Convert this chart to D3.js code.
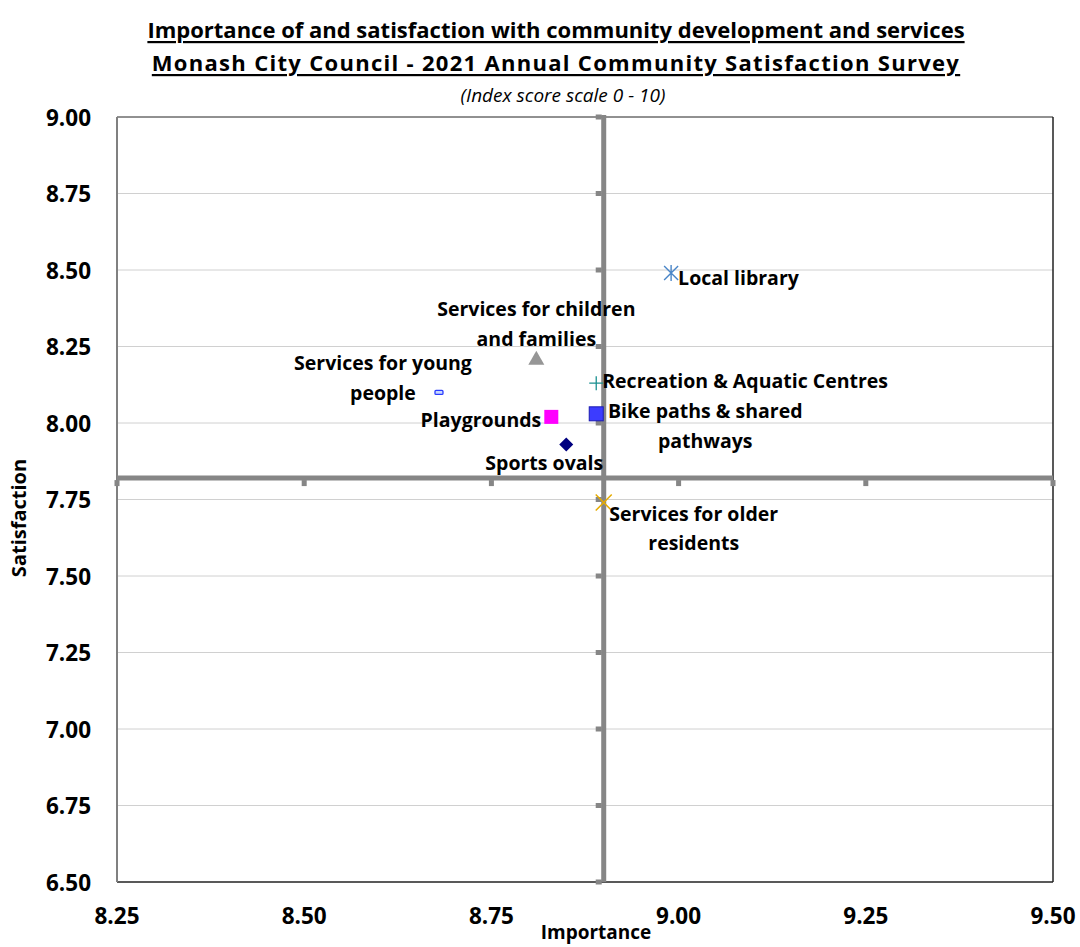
<!DOCTYPE html>
<html>
<head>
<meta charset="utf-8">
<script src="https://cdn.jsdelivr.net/npm/d3@7"></script>
<style>
  html, body { margin: 0; padding: 0; background: #fff; }
  svg { display: block; }
  text { font-family: "Open Sans", Lato, sans-serif; font-weight: bold; fill: #000; }
</style>
</head>
<body>
<svg id="chart" width="1080" height="947"></svg>
<script>
// ---- DATA ----
const titleLines = [
  "Importance of and satisfaction with community development and services",
  "Monash City Council - 2021 Annual Community Satisfaction Survey"
];
const subtitle = "(Index score scale 0 - 10)";
const services = [
  "Local library",
  "Services for children and families",
  "Services for young people",
  "Playgrounds",
  "Bike paths & shared pathways",
  "Recreation & Aquatic Centres",
  "Sports ovals",
  "Services for older residents"
];
const importance   = [8.99, 8.81, 8.68, 8.83, 8.89, 8.89, 8.85, 8.90];
const satisfaction = [8.49, 8.21, 8.10, 8.02, 8.03, 8.13, 7.93, 7.74];
const xTicks = [8.25, 8.50, 8.75, 9.00, 9.25, 9.50];
const yTicks = [6.50, 6.75, 7.00, 7.25, 7.50, 7.75, 8.00, 8.25, 8.50, 8.75, 9.00];
const xCross = 8.90;   // vertical axis crosses at this importance
const yCross = 7.82;   // horizontal axis crosses at this satisfaction

// ---- LAYOUT / STYLE ----
const L = 117, R = 1053, T = 117, B = 882;
const svg = d3.select("#chart");
const x = d3.scaleLinear().domain([8.25, 9.50]).range([L, R]);
const y = d3.scaleLinear().domain([6.50, 9.00]).range([B, T]);

// label line splits and placement (px offsets from marker)
const labelCfg = [
  { lines: ["Local library"], anchor: "start", dx: 7, dy: [4] },
  { lines: ["Services for children", "and families"], anchor: "middle", dx: 0, dy: [-50, -20] },
  { lines: ["Services for young", "people"], anchor: "middle", dx: -56, dy: [-30, 0] },
  { lines: ["Playgrounds"], anchor: "end", dx: -10, dy: [3] },
  { lines: ["Bike paths & shared", "pathways"], anchor: "middle", dx: 109, dy: [-3, 27] },
  { lines: ["Recreation & Aquatic Centres"], anchor: "start", dx: 6, dy: [-3] },
  { lines: ["Sports ovals"], anchor: "middle", dx: -22, dy: [18] },
  { lines: ["Services for older", "residents"], anchor: "middle", dx: 90, dy: [11, 40] }
];

// gridlines
svg.append("g").selectAll("line").data(yTicks.slice(1, -1)).join("line")
  .attr("x1", L).attr("x2", R)
  .attr("y1", d => y(d)).attr("y2", d => y(d))
  .attr("stroke", "#d0d0d0").attr("stroke-width", 1);

// plot border
svg.append("line").attr("x1", L).attr("x2", R).attr("y1", T).attr("y2", T).attr("stroke", "#222").attr("stroke-width", 1);
svg.append("line").attr("x1", R).attr("x2", R).attr("y1", T).attr("y2", B).attr("stroke", "#222").attr("stroke-width", 1.5);
svg.append("line").attr("x1", L).attr("x2", R).attr("y1", B).attr("y2", B).attr("stroke", "#222").attr("stroke-width", 1.5);
svg.append("line").attr("x1", L).attr("x2", L).attr("y1", T).attr("y2", B).attr("stroke", "#808080").attr("stroke-width", 2);

// crossing axes (thick gray)
const axisColor = "#868686";
const cx = x(xCross), cy = y(yCross);
svg.append("line").attr("x1", cx).attr("x2", cx).attr("y1", T - 2).attr("y2", B)
  .attr("stroke", axisColor).attr("stroke-width", 5);
svg.append("line").attr("x1", L).attr("x2", R).attr("y1", cy).attr("y2", cy)
  .attr("stroke", axisColor).attr("stroke-width", 5);
// tick marks on vertical axis (left)
svg.append("g").selectAll("rect").data(yTicks).join("rect")
  .attr("x", cx - 8).attr("y", d => y(d) - 2.5).attr("width", 6).attr("height", 5)
  .attr("fill", axisColor);
// tick marks on horizontal axis (below)
svg.append("g").selectAll("rect").data(xTicks).join("rect")
  .attr("x", d => x(d) - 2.5).attr("y", cy + 2).attr("width", 5).attr("height", 6)
  .attr("fill", axisColor);

// tick labels
svg.append("g").selectAll("text").data(yTicks).join("text")
  .attr("x", 91).attr("y", d => y(d)).attr("text-anchor", "end")
  .attr("dominant-baseline", "central").attr("font-size", 22.5).text(d => d.toFixed(2));
svg.append("g").selectAll("text").data(xTicks).join("text")
  .attr("x", d => x(d)).attr("y", 915).attr("text-anchor", "middle")
  .attr("dominant-baseline", "central").attr("font-size", 22.5).text(d => d.toFixed(2));

// axis titles
svg.append("text").attr("x", 596).attr("y", 932).attr("text-anchor", "middle")
  .attr("dominant-baseline", "central").attr("font-size", 19).text("Importance");
svg.append("text").attr("transform", "translate(18,518) rotate(-90)").attr("text-anchor", "middle")
  .attr("dominant-baseline", "central").attr("font-size", 20).text("Satisfaction");

// titles
const titleSpacing = [0, 1.3];
titleLines.forEach((t, i) => {
  svg.append("text").attr("x", 556).attr("y", 29 + i * 33).attr("text-anchor", "middle")
    .attr("dominant-baseline", "central").attr("font-size", 22)
    .attr("letter-spacing", titleSpacing[i])
    .attr("text-decoration", "underline").text(t);
});
svg.append("text").attr("x", 563).attr("y", 95).attr("text-anchor", "middle")
  .attr("dominant-baseline", "central").attr("font-size", 19)
  .style("font-style", "italic").style("font-weight", "normal").text(subtitle);

// markers
const pts = services.map((s, i) => ({ name: s, px: x(importance[i]), py: y(satisfaction[i]), i }));
const g = svg.append("g");
pts.forEach(p => {
  const m = g.append("g").attr("transform", `translate(${p.px},${p.py})`);
  switch (p.i) {
    case 0: // star: X plus vertical
      m.append("path").attr("d", "M-7,-7 L7,7 M-7,7 L7,-7 M0,-8 L0,8")
        .attr("stroke", "#4a86c8").attr("stroke-width", 1.4).attr("fill", "none");
      break;
    case 1:
      m.append("path").attr("d", "M0,-8 L8,6 L-8,6 Z").attr("fill", "#969696");
      break;
    case 2:
      m.append("rect").attr("x", -4).attr("y", -2).attr("width", 8).attr("height", 4)
        .attr("rx", 1).attr("fill", "#c8d8ff").attr("stroke", "#2a3cff").attr("stroke-width", 1.3);
      break;
    case 3:
      m.append("rect").attr("x", -7).attr("y", -7).attr("width", 14).attr("height", 14).attr("fill", "#ff00ff");
      break;
    case 4:
      m.append("rect").attr("x", -7).attr("y", -7).attr("width", 14).attr("height", 14)
        .attr("fill", "#3c3cff").attr("stroke", "#1a1ab0").attr("stroke-width", 1);
      break;
    case 5:
      m.append("path").attr("d", "M-7,0 L7,0 M0,-7 L0,7").attr("stroke", "#1a9090").attr("stroke-width", 1.3);
      break;
    case 6:
      m.append("path").attr("d", "M0,-7 L7,0 L0,7 L-7,0 Z").attr("fill", "#000080");
      break;
    case 7:
      m.append("path").attr("d", "M-8,-8 L8,8 M-8,8 L8,-8").attr("stroke", "#e6ac00").attr("stroke-width", 1.5);
      break;
  }
});

// data labels
pts.forEach(p => {
  const c = labelCfg[p.i];
  c.lines.forEach((ln, k) => {
    g.append("text").attr("x", p.px + c.dx).attr("y", p.py + c.dy[k])
      .attr("text-anchor", c.anchor).attr("dominant-baseline", "central")
      .attr("font-size", 19.5).text(ln);
  });
});
</script>
</body>
</html>
